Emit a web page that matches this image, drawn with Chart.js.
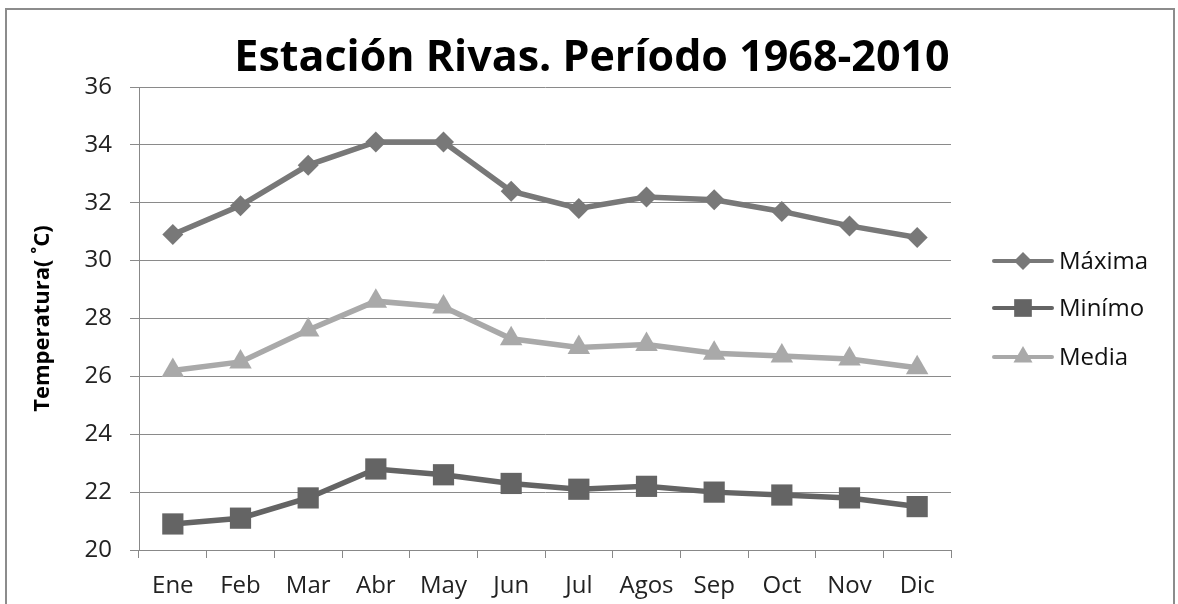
<!DOCTYPE html>
<html><head><meta charset="utf-8">
<script src="https://cdn.jsdelivr.net/npm/chart.js@4/dist/chart.umd.min.js"></script>
<style>
html,body{margin:0;padding:0;background:#fff;overflow:hidden}
#wrap{position:absolute;left:0;top:0;width:1178px;height:604px}
#frame{position:absolute;left:5px;top:8px;width:1170px;height:640px;border:2px solid #8c8c8c;box-sizing:border-box;pointer-events:none}
</style></head><body>
<div id="wrap"><canvas id="c" width="1178" height="604"></canvas></div><div id="frame"></div>
<script>
const months = ["Ene","Feb","Mar","Abr","May","Jun","Jul","Agos","Sep","Oct","Nov","Dic"];
const maxima = [30.9,31.9,33.3,34.1,34.1,32.4,31.8,32.2,32.1,31.7,31.2,30.8];
const minimo = [20.9,21.1,21.8,22.8,22.6,22.3,22.1,22.2,22.0,21.9,21.8,21.5];
const media  = [26.2,26.5,27.6,28.6,28.4,27.3,27.0,27.1,26.8,26.7,26.6,26.3];
const yTicks = [20,22,24,26,28,30,32,34,36];

const FONT = "'Open Sans', 'Noto Sans', sans-serif";

const legendPlugin = {
  id: 'customLegend',
  afterDraw(chart) {
    const ctx = chart.ctx;
    const rows = [261, 308, 357];
    chart.data.datasets.forEach((ds, i) => {
      const y = rows[i];
      ctx.save();
      ctx.strokeStyle = ds.borderColor;
      ctx.lineWidth = 4;
      ctx.lineCap = 'round';
      ctx.beginPath();
      ctx.moveTo(994, y); ctx.lineTo(1052, y);
      ctx.stroke();
      ctx.fillStyle = ds.pointBackgroundColor;
      ctx.strokeStyle = ds.pointBorderColor;
      Chart.helpers.drawPoint(ctx, {pointStyle: ds.pointStyle, radius: ds.legendRadius, rotation: 0, borderWidth: 0}, 1023, y);
      ctx.fillStyle = '#111';
      ctx.font = "24px " + FONT;
      ctx.textBaseline = 'middle';
      ctx.textAlign = 'left';
      ctx.fillText(ds.label, 1059, y + 1);
      ctx.restore();
    });
  }
};

new Chart(document.getElementById('c'), {
  type: 'line',
  data: {
    labels: months,
    datasets: [
      {label: 'Máxima', data: maxima, borderColor: '#787878', backgroundColor: '#787878', pointBackgroundColor: '#787878', pointBorderColor: '#787878', borderWidth: 5.5, pointStyle: 'rectRot', pointRadius: 10.5, pointBorderWidth: 0, legendRadius: 9},
      {label: 'Minímo', data: minimo, borderColor: '#646464', backgroundColor: '#646464', pointBackgroundColor: '#646464', pointBorderColor: '#646464', borderWidth: 5.5, pointStyle: 'rect', pointRadius: 15, pointBorderWidth: 0, legendRadius: 12.5},
      {label: 'Media', data: media, borderColor: '#a9a9a9', backgroundColor: '#a9a9a9', pointBackgroundColor: '#a9a9a9', pointBorderColor: '#a9a9a9', borderWidth: 5.5, pointStyle: 'triangle', pointRadius: 13, pointBorderWidth: 0, legendRadius: 11}
    ]
  },
  options: {
    responsive: false,
    animation: false,
    devicePixelRatio: 1,
    layout: {padding: {left: 30, right: 24, top: 37, bottom: 0}},
    plugins: {
      legend: {display: false},
      tooltip: {enabled: false},
      title: {
        display: true,
        text: 'Estación Rivas. Período 1968-2010',
        color: '#000',
        font: {family: FONT, size: 43, weight: 'bold', lineHeight: 1.0},
        padding: {top: 0, bottom: 7}
      }
    },
    scales: {
      x: {
        offset: true,
        grid: {offset: true, drawOnChartArea: false, drawTicks: true, tickLength: 8, color: '#888', lineWidth: 1},
        border: {color: '#888', width: 1},
        ticks: {color: '#222', font: {family: FONT, size: 24}, padding: 14, maxRotation: 0, autoSkip: false},
        afterFit(s) { s.height = 54; }
      },
      y: {
        min: 20, max: 36,
        afterBuildTicks(s) { s.ticks = yTicks.map(v => ({value: v})); },
        grid: {color: '#8a8a8a', lineWidth: 1, tickLength: 9},
        border: {color: '#888', width: 1},
        ticks: {color: '#222', font: {family: FONT, size: 24}, padding: 18},
        title: {display: true, text: 'Temperatura( ˚C)', color: '#000', font: {family: FONT, size: 22, weight: 'bold'}, padding: {top: 0, bottom: 0}},
        afterFit(s) { s.width = 109; }
      },
      yRight: {
        type: 'linear',
        position: 'right',
        display: true,
        grid: {display: false, drawTicks: false},
        border: {display: false},
        ticks: {display: false},
        afterFit(s) { s.width = 203; }
      }
    }
  },
  plugins: [legendPlugin]
});
</script>
</body></html>
